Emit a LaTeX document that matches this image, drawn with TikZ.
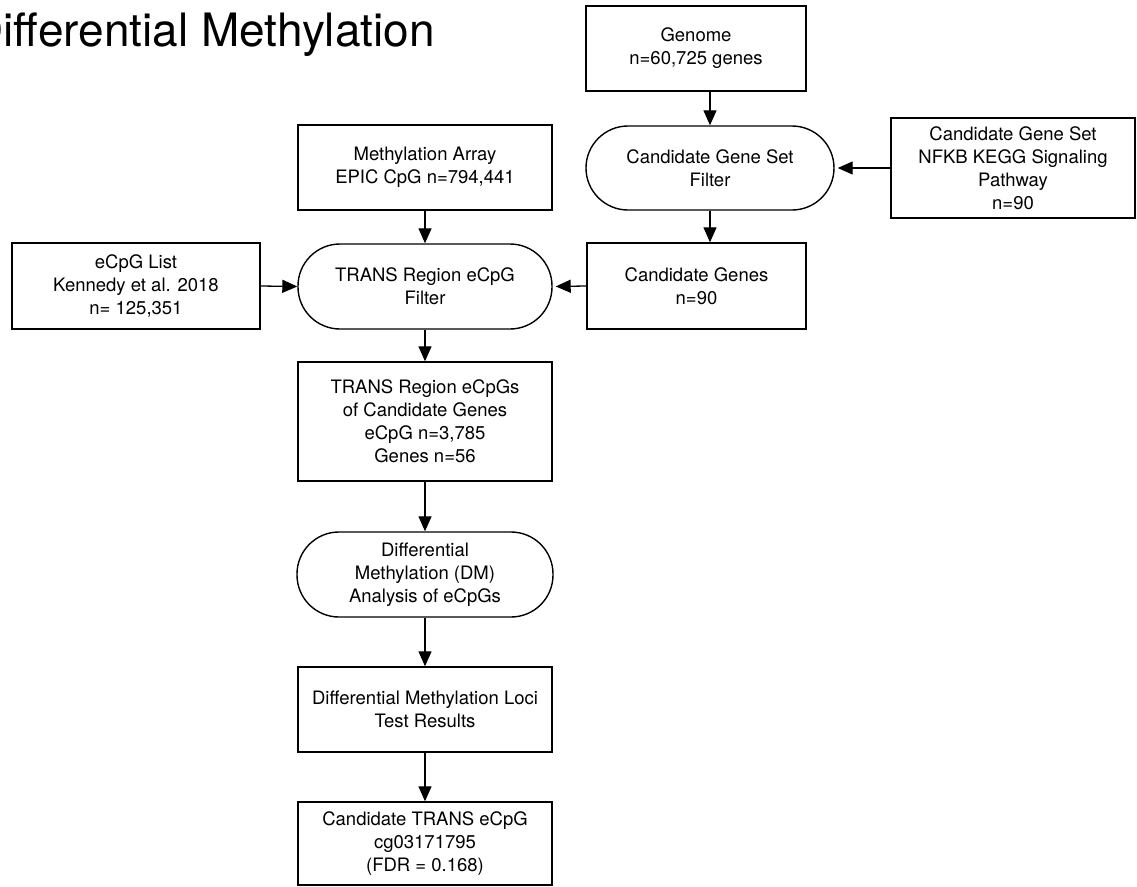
\documentclass[tikz,border=0pt]{standalone}
\usepackage{fontspec}
\setmainfont{TeX Gyre Heros}
\usetikzlibrary{arrows.meta}
\begin{document}
\begin{tikzpicture}[x=1pt,y=-1pt,
  every node/.style={font=\fontsize{18.5}{23}\selectfont, align=center, inner sep=0pt},
  stepbox/.style={draw, line width=1.4pt, rectangle},
  pill/.style={draw, line width=1.4pt, rectangle, rounded corners=42pt},
  flow/.style={line width=1.3pt, -{Triangle[length=15pt,width=13pt]}}]
\useasboundingbox (0,0) rectangle (1137,886);

% heading
\node[anchor=base east, font=\fontsize{46}{52}\selectfont] (title) at (435,46) {Differential Methylation};

% gene branch
\node[stepbox, minimum width=220pt, minimum height=85pt] (genome) at (696,48.5) {Genome\\n=60,725 genes};
\node[pill, minimum width=248pt, minimum height=84pt] (cgfilter) at (710,168) {Candidate Gene Set\\Filter};
\node[stepbox, minimum width=244pt, minimum height=100pt] (nfkb) at (1013,168) {Candidate Gene Set\\NFKB KEGG Signaling\\Pathway\\n=90};
\node[stepbox, minimum width=219pt, minimum height=86pt] (candgenes) at (696.5,286) {Candidate Genes\\n=90};

% methylation branch
\node[stepbox, minimum width=254pt, minimum height=85pt] (metharr) at (425,167.5) {Methylation Array\\EPIC CpG n=794,441};
\node[pill, minimum width=254pt, minimum height=85pt] (transfilt) at (425,286.5) {TRANS Region eCpG\\Filter};
\node[stepbox, minimum width=248pt, minimum height=86pt] (ecpg) at (136,286) {eCpG List\\Kennedy et al. 2018\\n= 125,351};
\node[stepbox, minimum width=254pt, minimum height=119pt] (transreg) at (425,421.5) {TRANS Region eCpGs\\of Candidate Genes\\eCpG n=3,785\\Genes n=56};
\node[pill, minimum width=256pt, minimum height=85pt] (dm) at (425,574.5) {Differential\\Methylation (DM)\\Analysis of eCpGs};
\node[stepbox, minimum width=254pt, minimum height=85pt] (dmloci) at (425,709.5) {Differential Methylation Loci\\Test Results};
\node[stepbox, minimum width=254pt, minimum height=83pt] (result) at (425,843.5) {Candidate TRANS eCpG\\cg03171795\\(FDR = 0.168)};

% connectors
\draw[flow] (genome.south -| cgfilter.north) -- (cgfilter.north);
\draw[flow, shorten >=3pt] (nfkb.west) -- (cgfilter.east);
\draw[flow] (cgfilter.south) -- (cgfilter.south |- candgenes.north);
\draw[flow] (metharr.south) -- (transfilt.north);
\draw[flow] (ecpg.east) -- (transfilt.west);
\draw[flow, shorten >=3pt] (candgenes.west) -- (transfilt.east);
\draw[flow] (transfilt.south) -- (transreg.north);
\draw[flow] (transreg.south) -- (dm.north);
\draw[flow] (dm.south) -- (dmloci.north);
\draw[flow] (dmloci.south) -- (result.north);
\end{tikzpicture}
\end{document}
